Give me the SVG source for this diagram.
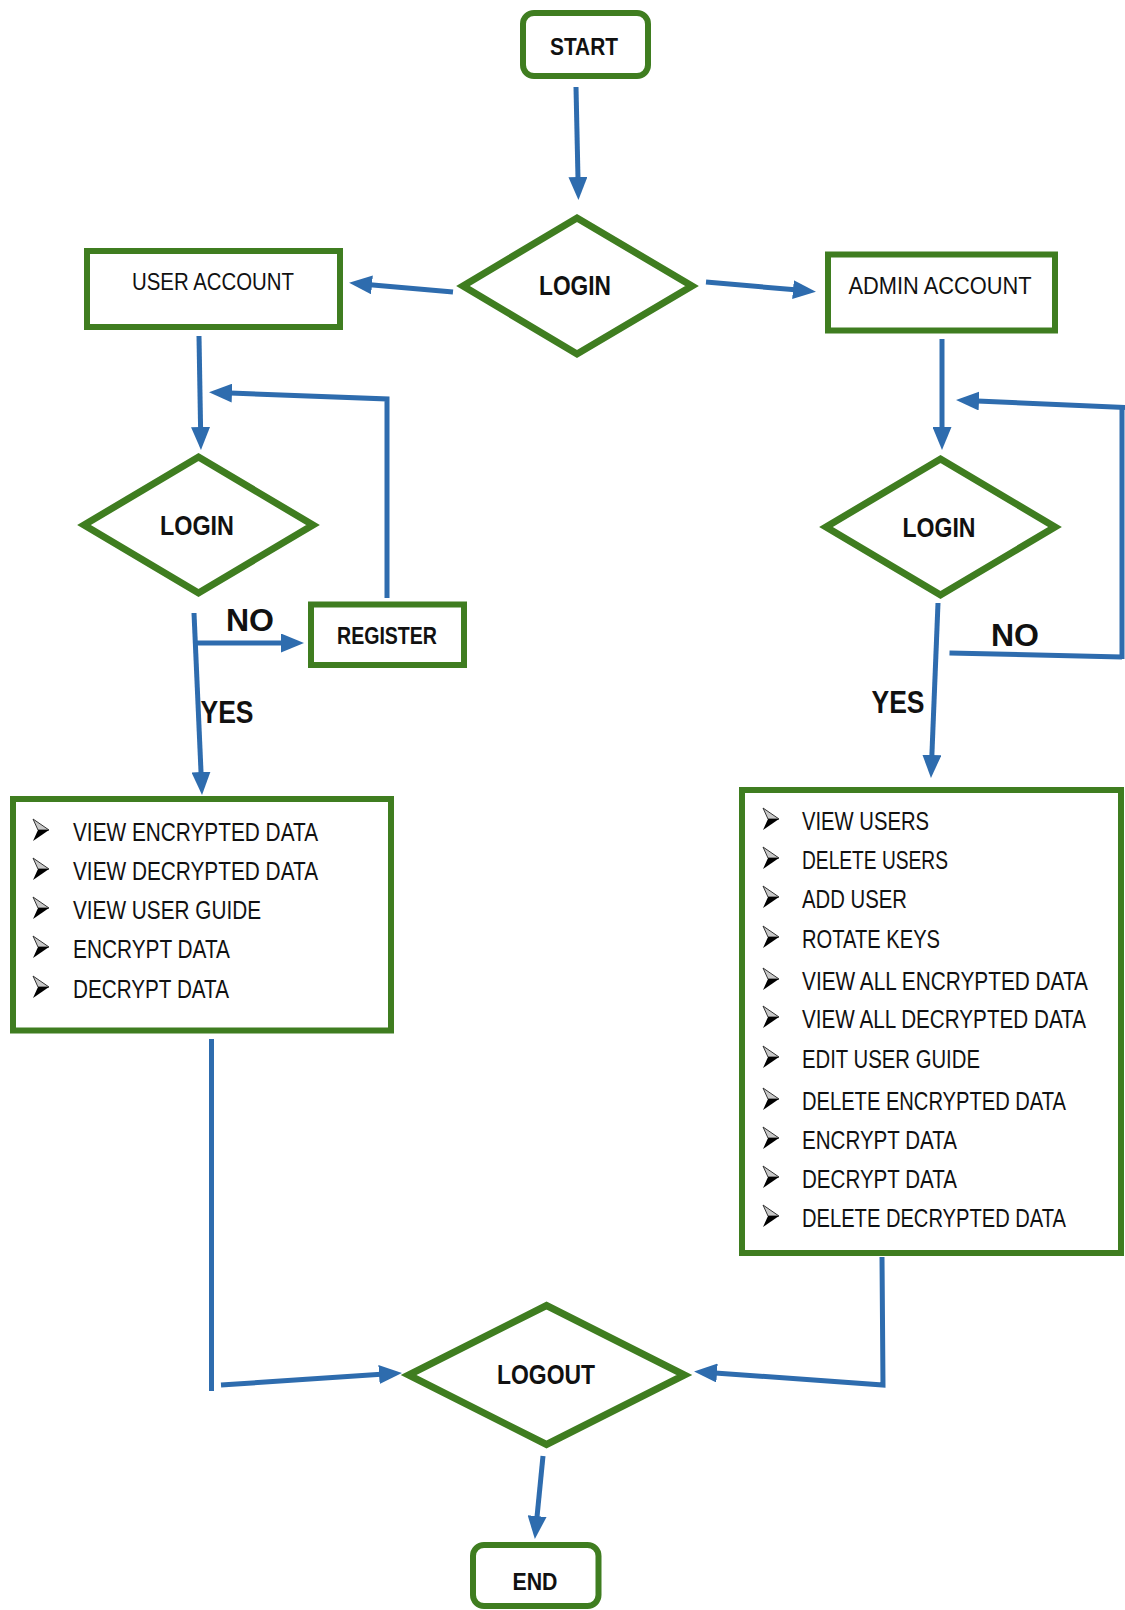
<svg xmlns="http://www.w3.org/2000/svg" width="1125" height="1610" viewBox="0 0 1125 1610">
  <defs>
    <style>
      .box { fill: #fff; stroke: #3f7d20; stroke-width: 6; }
      .dia { fill: #fff; stroke: #3f7d20; stroke-width: 7; stroke-linejoin: miter; stroke-miterlimit: 10; }
      .wire { fill: none; stroke: #2e6cae; stroke-width: 5; stroke-linejoin: miter; }
      .arr { marker-end: url(#ah); }
      text { font-family: "Liberation Sans", Arial, sans-serif; fill: #111; }
      .lbl { font-size: 24px; text-anchor: middle; }
      .b { font-weight: bold; }
      .dl { font-size: 28px; font-weight: bold; text-anchor: middle; }
      .yn { font-size: 32px; font-weight: bold; text-anchor: middle; }
      .item { font-size: 25px; }
    </style>
    <marker id="ah" viewBox="0 0 23 19" refX="2" refY="9.5" markerWidth="23" markerHeight="19" markerUnits="userSpaceOnUse" orient="auto">
      <path d="M0,0 L23,9.5 L0,19 z" fill="#2e6cae"/>
    </marker>
    <!-- list bullet: shaded arrowhead -->
    <g id="bullet">
      <path d="M0,0 L16,11 L5,11 z" fill="#c8c8c8" stroke="#333" stroke-width="1"/>
      <path d="M5,11 L16,11 L0,22 z" fill="#000"/>
    </g>
  </defs>

  <!-- connectors -->
  <g id="connectors">
    <line class="wire arr" x1="576" y1="87" x2="578" y2="179"/>
    <line class="wire arr" x1="453" y1="292" x2="370" y2="284.7"/>
    <line class="wire arr" x1="706" y1="282" x2="795" y2="289.8"/>
    <line class="wire arr" x1="199" y1="336" x2="200.6" y2="429"/>
    <polyline class="wire arr" points="387,598 387,399 230,393"/>
    <line class="wire arr" x1="197" y1="643" x2="283" y2="643"/>
    <line class="wire arr" x1="194" y1="613" x2="201.1" y2="774"/>
    <line class="wire" x1="211.5" y1="1039" x2="211.5" y2="1391"/>
    <line class="wire arr" x1="221" y1="1385" x2="381" y2="1374.3"/>
    <line class="wire arr" x1="942" y1="339" x2="942" y2="429"/>
    <line class="wire arr" x1="1125" y1="407.5" x2="977" y2="400.9"/>
    <line class="wire" x1="1122" y1="405" x2="1122" y2="659"/>
    <line class="wire" x1="949.5" y1="653" x2="1122" y2="657"/>
    <line class="wire arr" x1="938" y1="603" x2="931.8" y2="757"/>
    <polyline class="wire arr" points="882,1257 883,1385 715,1372.9"/>
    <line class="wire arr" x1="543" y1="1456" x2="536.9" y2="1518.1"/>
  </g>

  <!-- edge labels -->
  <g id="edge-labels">
    <text class="yn" x="250" y="631" textLength="48" lengthAdjust="spacingAndGlyphs">NO</text>
    <text class="yn" x="227" y="723" textLength="53" lengthAdjust="spacingAndGlyphs">YES</text>
    <text class="yn" x="1015" y="646" textLength="48" lengthAdjust="spacingAndGlyphs">NO</text>
    <text class="yn" x="898" y="713" textLength="53" lengthAdjust="spacingAndGlyphs">YES</text>
  </g>

  <g id="start">
    <rect class="box" x="523" y="13" width="125" height="63" rx="11"/>
    <text class="lbl b" x="584" y="55" textLength="68" lengthAdjust="spacingAndGlyphs">START</text>
  </g>

  <g id="login-main">
    <polygon class="dia" points="577,218 692,286 577,354 463,286"/>
    <text class="dl" x="575" y="295" textLength="72" lengthAdjust="spacingAndGlyphs">LOGIN</text>
  </g>

  <g id="user-account">
    <rect class="box" x="87" y="251" width="253" height="76"/>
    <text class="lbl" x="213" y="290" textLength="162" lengthAdjust="spacingAndGlyphs">USER ACCOUNT</text>
  </g>

  <g id="admin-account">
    <rect class="box" x="828" y="254.5" width="227" height="76"/>
    <text class="lbl" x="940" y="294" textLength="183" lengthAdjust="spacingAndGlyphs">ADMIN ACCOUNT</text>
  </g>

  <g id="login-user">
    <polygon class="dia" points="198.5,457 313,525 198.5,593 84,525"/>
    <text class="dl" x="197" y="535" textLength="74" lengthAdjust="spacingAndGlyphs">LOGIN</text>
  </g>

  <g id="login-admin">
    <polygon class="dia" points="940.5,459 1055,527 940.5,595 826,527"/>
    <text class="dl" x="939" y="537" textLength="73" lengthAdjust="spacingAndGlyphs">LOGIN</text>
  </g>

  <g id="register">
    <rect class="box" x="311" y="604.5" width="153" height="60.5"/>
    <text class="lbl b" x="387" y="644" textLength="100" lengthAdjust="spacingAndGlyphs">REGISTER</text>
  </g>

  <g id="user-menu">
    <rect class="box" x="13" y="799" width="378" height="231.5"/>
    <use href="#bullet" x="33" y="819"/>
    <use href="#bullet" x="33" y="858"/>
    <use href="#bullet" x="33" y="897"/>
    <use href="#bullet" x="33" y="936"/>
    <use href="#bullet" x="33" y="976"/>
    <g class="item">
      <text x="73" y="841" textLength="245" lengthAdjust="spacingAndGlyphs">VIEW ENCRYPTED DATA</text>
      <text x="73" y="880" textLength="245" lengthAdjust="spacingAndGlyphs">VIEW DECRYPTED DATA</text>
      <text x="73" y="919" textLength="188" lengthAdjust="spacingAndGlyphs">VIEW USER GUIDE</text>
      <text x="73" y="958" textLength="157" lengthAdjust="spacingAndGlyphs">ENCRYPT DATA</text>
      <text x="73" y="998" textLength="156" lengthAdjust="spacingAndGlyphs">DECRYPT DATA</text>
    </g>
  </g>

  <g id="admin-menu">
    <rect class="box" x="742" y="790" width="379" height="463"/>
    <use href="#bullet" x="763" y="808"/>
    <use href="#bullet" x="763" y="847"/>
    <use href="#bullet" x="763" y="886"/>
    <use href="#bullet" x="763" y="926"/>
    <use href="#bullet" x="763" y="968"/>
    <use href="#bullet" x="763" y="1006"/>
    <use href="#bullet" x="763" y="1046"/>
    <use href="#bullet" x="763" y="1088"/>
    <use href="#bullet" x="763" y="1127"/>
    <use href="#bullet" x="763" y="1166"/>
    <use href="#bullet" x="763" y="1205"/>
    <g class="item">
      <text x="802" y="830" textLength="127" lengthAdjust="spacingAndGlyphs">VIEW USERS</text>
      <text x="802" y="869" textLength="146" lengthAdjust="spacingAndGlyphs">DELETE USERS</text>
      <text x="802" y="908" textLength="105" lengthAdjust="spacingAndGlyphs">ADD USER</text>
      <text x="802" y="948" textLength="138" lengthAdjust="spacingAndGlyphs">ROTATE KEYS</text>
      <text x="802" y="990" textLength="286" lengthAdjust="spacingAndGlyphs">VIEW ALL ENCRYPTED DATA</text>
      <text x="802" y="1028" textLength="284" lengthAdjust="spacingAndGlyphs">VIEW ALL DECRYPTED DATA</text>
      <text x="802" y="1068" textLength="178" lengthAdjust="spacingAndGlyphs">EDIT USER GUIDE</text>
      <text x="802" y="1110" textLength="264" lengthAdjust="spacingAndGlyphs">DELETE ENCRYPTED DATA</text>
      <text x="802" y="1149" textLength="155" lengthAdjust="spacingAndGlyphs">ENCRYPT DATA</text>
      <text x="802" y="1188" textLength="155" lengthAdjust="spacingAndGlyphs">DECRYPT DATA</text>
      <text x="802" y="1227" textLength="264" lengthAdjust="spacingAndGlyphs">DELETE DECRYPTED DATA</text>
    </g>
  </g>

  <g id="logout">
    <polygon class="dia" points="546.5,1305.5 684.5,1375 546.5,1444.5 408.5,1375"/>
    <text class="dl" x="546" y="1384" textLength="98" lengthAdjust="spacingAndGlyphs">LOGOUT</text>
  </g>

  <g id="end">
    <rect class="box" x="473" y="1545" width="125.5" height="61" rx="11"/>
    <text class="lbl b" x="535" y="1590" textLength="45" lengthAdjust="spacingAndGlyphs">END</text>
  </g>
</svg>
